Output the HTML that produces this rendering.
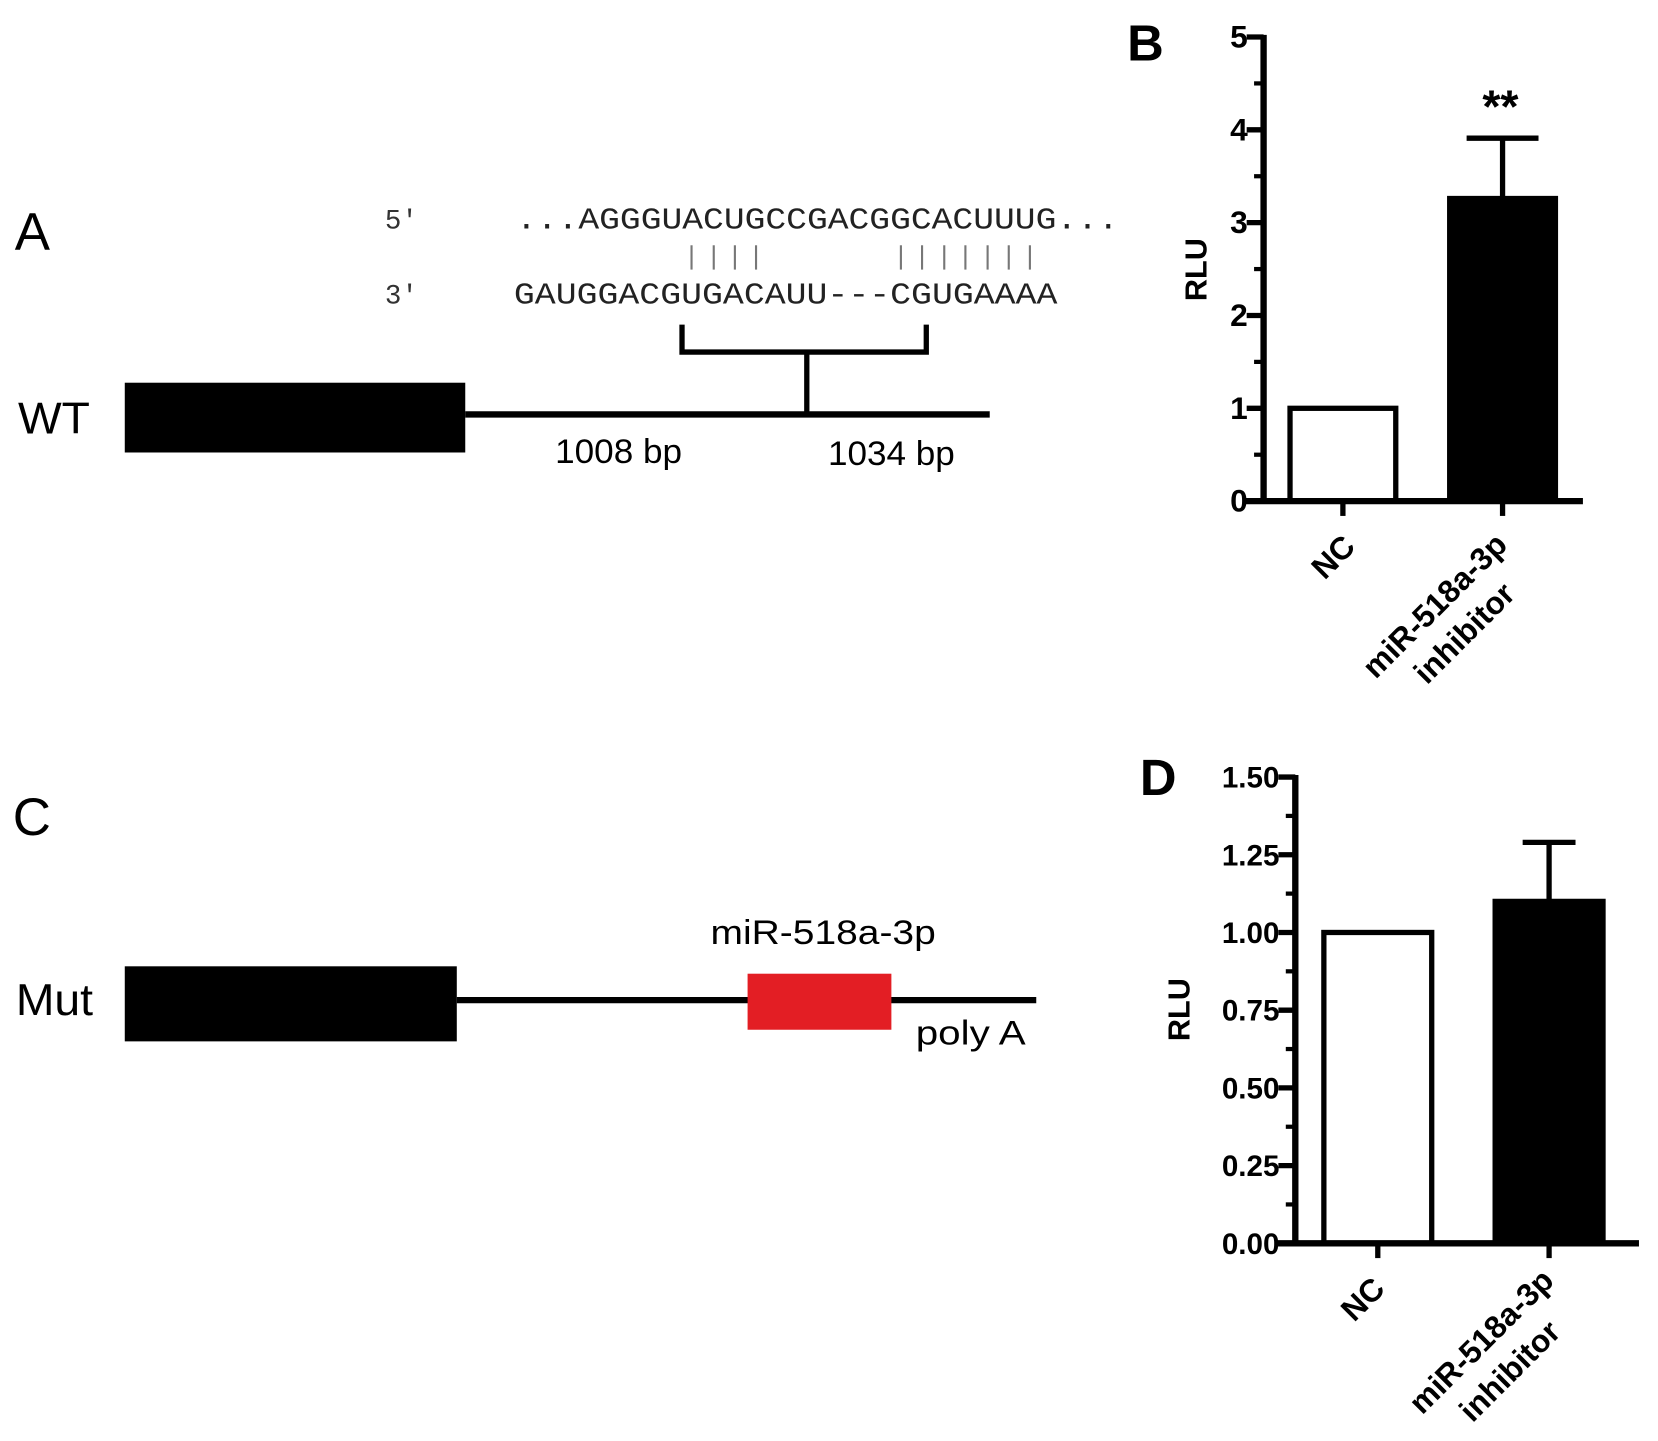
<!DOCTYPE html>
<html><head><meta charset="utf-8"><style>
html,body{margin:0;padding:0;background:#fff;}
svg{display:block;}
text{font-family:"Liberation Sans",Arial,sans-serif;}
text.mono{font-family:"Liberation Mono","DejaVu Sans Mono",monospace;}
</style></head><body>
<svg id="fig" width="1658" height="1441" viewBox="0 0 1568 1363" preserveAspectRatio="none" xmlns="http://www.w3.org/2000/svg">
<g>
<text x="14" y="236" font-size="50">A</text>
<text class="mono" x="364" y="216" font-size="26" fill="#333">5'</text>
<text class="mono" x="488" y="216" font-size="29" fill="#222" textLength="570" lengthAdjust="spacingAndGlyphs">...AGGGUACUGCCGACGGCACUUUG...</text>
<g stroke="#777" stroke-width="2">
<line x1="654" y1="232" x2="654" y2="255"/><line x1="675" y1="232" x2="675" y2="255"/><line x1="695" y1="232" x2="695" y2="255"/><line x1="715" y1="232" x2="715" y2="255"/>
<line x1="852" y1="232" x2="852" y2="255"/><line x1="872" y1="232" x2="872" y2="255"/><line x1="893" y1="232" x2="893" y2="255"/><line x1="913" y1="232" x2="913" y2="255"/><line x1="934" y1="232" x2="934" y2="255"/><line x1="954" y1="232" x2="954" y2="255"/><line x1="974" y1="232" x2="974" y2="255"/>
</g>
<text class="mono" x="364" y="287" font-size="26" fill="#333">3'</text>
<text class="mono" x="486" y="287" font-size="29" fill="#222" textLength="514" lengthAdjust="spacingAndGlyphs">GAUGGACGUGACAUU---CGUGAAAA</text>
<path d="M645 307 V333 H876 V307 M763 333 V392" fill="none" stroke="#000" stroke-width="5"/>
<text x="17" y="410" font-size="42" textLength="68" lengthAdjust="spacingAndGlyphs">WT</text>
<rect x="118" y="362" width="322" height="66" fill="#000"/>
<line x1="440" y1="392" x2="936" y2="392" stroke="#000" stroke-width="6"/>
<text x="525" y="438" font-size="32" textLength="120" lengthAdjust="spacingAndGlyphs">1008 bp</text>
<text x="783" y="440" font-size="32" textLength="120" lengthAdjust="spacingAndGlyphs">1034 bp</text>
</g>
<g>
<text x="12" y="790" font-size="50">C</text>
<text x="15" y="960" font-size="42" textLength="73" lengthAdjust="spacingAndGlyphs">Mut</text>
<rect x="118" y="914" width="314" height="71" fill="#000"/>
<line x1="432" y1="946" x2="980" y2="946" stroke="#000" stroke-width="6"/>
<rect x="707" y="921" width="136" height="53" fill="#e31e24"/>
<text x="672" y="893" font-size="32" textLength="213" lengthAdjust="spacingAndGlyphs">miR-518a-3p</text>
<text x="866" y="988" font-size="32" textLength="104" lengthAdjust="spacingAndGlyphs">poly A</text>
</g>
<g id="chartB"></g>
<g id="chartD"></g>
</svg>
<script>
const categories = ["NC", "miR-518a-3p inhibitor"];
const valuesB = [1.0, 3.26];
const errorsB = [0, 0.65];
const ticksB = ["0", "1", "2", "3", "4", "5"];
const valuesD = [1.0, 1.10];
const errorsD = [0, 0.19];
const ticksD = ["0.00", "0.25", "0.50", "0.75", "1.00", "1.25", "1.50"];

const NS = "http://www.w3.org/2000/svg";
function mk(parent, tag, attrs, txt) {
  const e = document.createElementNS(NS, tag);
  for (const k in attrs) e.setAttribute(k, attrs[k]);
  if (txt !== undefined) e.textContent = txt;
  parent.appendChild(e);
  return e;
}

function drawChart(gid, cfg, values, errors, ticks) {
  const g = document.getElementById(gid);
  const yMax = parseFloat(ticks[ticks.length - 1]);
  const y = v => cfg.y0 - (v / yMax) * (cfg.y0 - cfg.yTop);
  const nT = ticks.length - 1;
  for (let i = 0; i < nT; i++) {
    const vm = (i + 0.5) * yMax / nT;
    const t = mk(g, "line", {x1: cfg.ax - 9, x2: cfg.ax, y1: y(vm), y2: y(vm), stroke: "#000", "stroke-width": 4});
    
    
  }
  ticks.forEach((lab, i) => {
    const v = parseFloat(lab);
    const t = mk(g, "line", {x1: cfg.ax - 16, x2: cfg.ax, y1: y(v), y2: y(v), stroke: "#000", "stroke-width": 5});
    
    
    const tl = mk(g, "text", {x: cfg.ax - 15, y: y(v) + 10, "font-size": cfg.fs, "font-weight": "bold", "text-anchor": "end"}, lab);
    
    
  });
  const ya = mk(g, "line", {x1: cfg.ax, x2: cfg.ax, y1: cfg.yTop - 2, y2: cfg.y0 + 2, stroke: "#000", "stroke-width": 6});
  
  
  values.forEach((v, i) => {
    const x = cfg.barX[i];
    const b = mk(g, "rect", {x: x + 2, y: y(v), width: cfg.bw - 4, height: cfg.y0 - y(v), fill: i === 0 ? "#fff" : "#000", stroke: "#000", "stroke-width": 5});
    
    
    if (errors[i] > 0) {
      const cx = x + cfg.bw / 2, top = y(v + errors[i]);
      const e1 = mk(g, "path", {d: `M${cx} ${y(v)} V${top} M${cx - cfg.cap} ${top} H${cx + cfg.cap}`, stroke: "#000", "stroke-width": 5, fill: "none"});
      
      
    }
    const tk = mk(g, "line", {x1: x + cfg.bw / 2, x2: x + cfg.bw / 2, y1: cfg.y0, y2: cfg.y0 + 14, stroke: "#000", "stroke-width": 5});
    
    
  });
  const xa = mk(g, "line", {x1: cfg.ax - 17, x2: cfg.xEnd, y1: cfg.y0, y2: cfg.y0, stroke: "#000", "stroke-width": 6});
  
  
  const c0 = cfg.labNC;
  const l0 = mk(g, "text", {x: c0[0], y: c0[1], "font-size": 30, "font-weight": "bold", "text-anchor": "middle", transform: `rotate(-45 ${c0[0]} ${c0[1]})`}, categories[0]);
  
  
  const parts = categories[1].split(" ");
  [cfg.labI1, cfg.labI2].forEach((c, k) => {
    const l = mk(g, "text", {x: c[0], y: c[1], "font-size": 30, "font-weight": "bold", "text-anchor": "middle", transform: `rotate(-45 ${c[0]} ${c[1]})`}, parts[k]);
    
    
  });
  const r = mk(g, "text", {x: cfg.rlu[0], y: cfg.rlu[1], "font-size": 29, "font-weight": "bold", "text-anchor": "middle", transform: `rotate(-90 ${cfg.rlu[0]} ${cfg.rlu[1]})`}, "RLU");
  
  
  const pl = mk(g, "text", {x: cfg.pl[0], y: cfg.pl[1], "font-size": 48, "font-weight": "bold"}, cfg.plText);
  
  
  return y;
}

drawChart("chartB", {ax: 1195, y0: 474, yTop: 35, xEnd: 1497, barX: [1218, 1369], bw: 104, cap: 34, fs: 30,
  labNC: [1268, 534], labI1: [1364, 580], labI2: [1392, 606], rlu: [1141, 255], pl: [1066, 57], plText: "B"},
  valuesB, errorsB, ticksB);
const st = mk(document.getElementById("chartB"), "text", {x: 1419, y: 116, "font-size": 44, "font-weight": "bold", "text-anchor": "middle"}, "**");



drawChart("chartD", {ax: 1225, y0: 1176, yTop: 735, xEnd: 1550, barX: [1250, 1412], bw: 106, cap: 25, fs: 28,
  labNC: [1296, 1236], labI1: [1408, 1276], labI2: [1435, 1304], rlu: [1125, 955], pl: [1078, 752], plText: "D"},
  valuesD, errorsD, ticksD);
</script>
</body></html>
